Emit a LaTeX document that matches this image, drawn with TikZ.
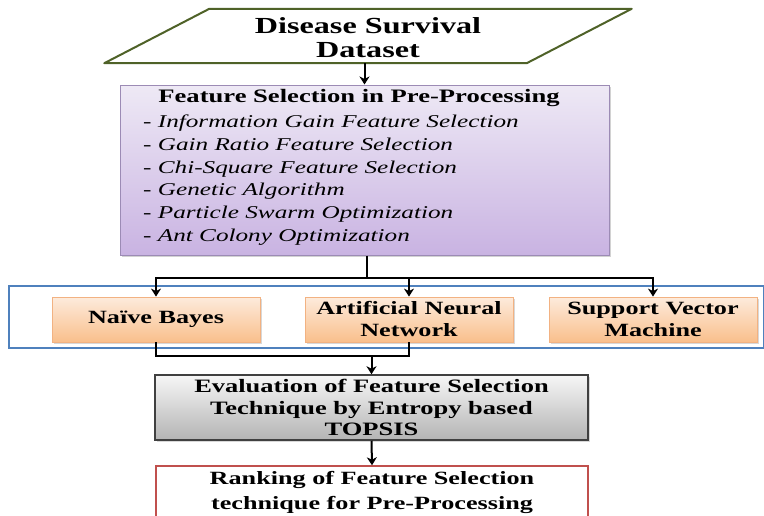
\documentclass[tikz,border=0pt]{standalone}
\usepackage{fontspec}
\setmainfont{Liberation Serif}[FakeStretch=1.4]
\usetikzlibrary{arrows.meta,shadows,calc}

\definecolor{olivedark}{HTML}{4F6228}
\definecolor{lavtop}{HTML}{EEE9F5}
\definecolor{lavbot}{HTML}{C9B3E2}
\definecolor{lavline}{HTML}{9C8BB5}
\definecolor{orgtop}{HTML}{FDEBDC}
\definecolor{orgbot}{HTML}{F9BF8C}
\definecolor{orgline}{HTML}{F2B282}
\definecolor{graytop}{HTML}{F6F6F6}
\definecolor{graybot}{HTML}{B4B4B4}
\definecolor{grayline}{HTML}{404040}
\definecolor{rankline}{HTML}{C0504D}
\definecolor{bandline}{HTML}{4F81BD}

\tikzset{
  boldtxt/.style={font=\fontsize{18.7}{22}\selectfont\bfseries, align=center, text=black},
  conn/.style={line width=2pt, draw=black},
  arr/.style={conn, -{Stealth[length=8pt,width=10pt,inset=2.5pt]}},
  fsbox/.style={draw=lavline, line width=1pt, top color=lavtop, bottom color=lavbot,
    drop shadow={shadow xshift=2pt, shadow yshift=-2pt, fill=black!35}},
  algobox/.style={boldtxt, draw=orgline, line width=0.8pt, top color=orgtop, bottom color=orgbot,
    minimum width=208pt, minimum height=45pt, inner sep=0pt,
    drop shadow={shadow xshift=2pt, shadow yshift=-2pt, fill=black!30}},
  evalbox/.style={boldtxt, font=\fontsize{18.9}{21.5}\selectfont\bfseries,
    draw=grayline, line width=1.5pt, top color=graytop, bottom color=graybot,
    minimum width=433pt, minimum height=65pt, inner sep=0pt,
    drop shadow={shadow xshift=2pt, shadow yshift=-2pt, fill=black!30}},
  rankbox/.style={boldtxt, font=\fontsize{18.7}{25}\selectfont\bfseries,
    draw=rankline, line width=1.5pt, fill=white,
    minimum width=432pt, minimum height=52pt, inner sep=0pt},
  bandbox/.style={draw=bandline, line width=1.4pt, fill=white,
    minimum width=755pt, minimum height=62pt, inner sep=0pt},
}

\begin{document}
\begin{tikzpicture}[x=1pt, y=-1pt]
\clip (0,0) rectangle (764,515);
\fill[white] (0,0) rectangle (764,515);

% input data set (parallelogram around a text node)
\node[boldtxt, font=\fontsize{23}{24}\selectfont\bfseries,
      minimum width=422pt, minimum height=54pt, inner sep=0pt] (data) at (368,38) {Disease Survival\\Dataset};
\draw[draw=olivedark, line width=2pt, line join=round]
  ([xshift=-52.5pt,yshift=2pt]data.south west) -- ([xshift=52.5pt,yshift=2pt]data.north west)
  -- ([xshift=52.5pt,yshift=2pt]data.north east) -- ([xshift=-52.5pt,yshift=2pt]data.south east) -- cycle;

% feature selection block
\node[fsbox, minimum width=489pt, minimum height=170pt] (fs) at (364.5,170) {};
\node[boldtxt, font=\fontsize{19}{22}\selectfont\bfseries] (fstitle) at (359,98)
  {Feature Selection in Pre-Processing};
\node[anchor=west, align=left, inner sep=0pt, text=black,
      font=\fontsize{18}{22.8}\selectfont\itshape] (fslist) at (143,180)
  {- Information Gain Feature Selection\\
   - Gain Ratio Feature Selection\\
   - Chi-Square Feature Selection\\
   - Genetic Algorithm\\
   - Particle Swarm Optimization\\
   - Ant Colony Optimization};

\draw[arr] ([yshift=2pt]data.south -| fs.north) -- (fs.north);

% classifier band
\node[bandbox] (band) at (386.5,317) {};
\node[algobox] (nb)  at (156,319.5) {Na\"{\i}ve Bayes};
\node[algobox] (ann) at (409,319.5) {Artificial Neural\\Network};
\node[algobox] (svm) at (653,319.5) {Support Vector\\Machine};

% fan-out to the classifiers
\coordinate (bus) at ($(fs.south)+(2,22)$);
\draw[conn] ([xshift=2pt]fs.south) -- (bus);
\draw[arr] (bus) -| (nb.north);
\draw[arr] (bus) -| (svm.north);
\draw[arr] (bus -| ann.north) -- (ann.north);

% evaluation and ranking
\node[evalbox] (eval) at (371.5,407.5)
  {Evaluation of Feature Selection\\Technique by Entropy based\\TOPSIS};
\node[rankbox] (rank) at (372,492)
  {Ranking of Feature Selection\\technique for Pre-Processing};

\coordinate (join) at ($(ann.south)+(0,14)$);
\draw[conn] (nb.south) |- (join) -- (ann.south);
\draw[arr] (join -| eval.north) -- (eval.north);
\draw[arr] (eval.south) -- (rank.north);
\end{tikzpicture}
\end{document}
